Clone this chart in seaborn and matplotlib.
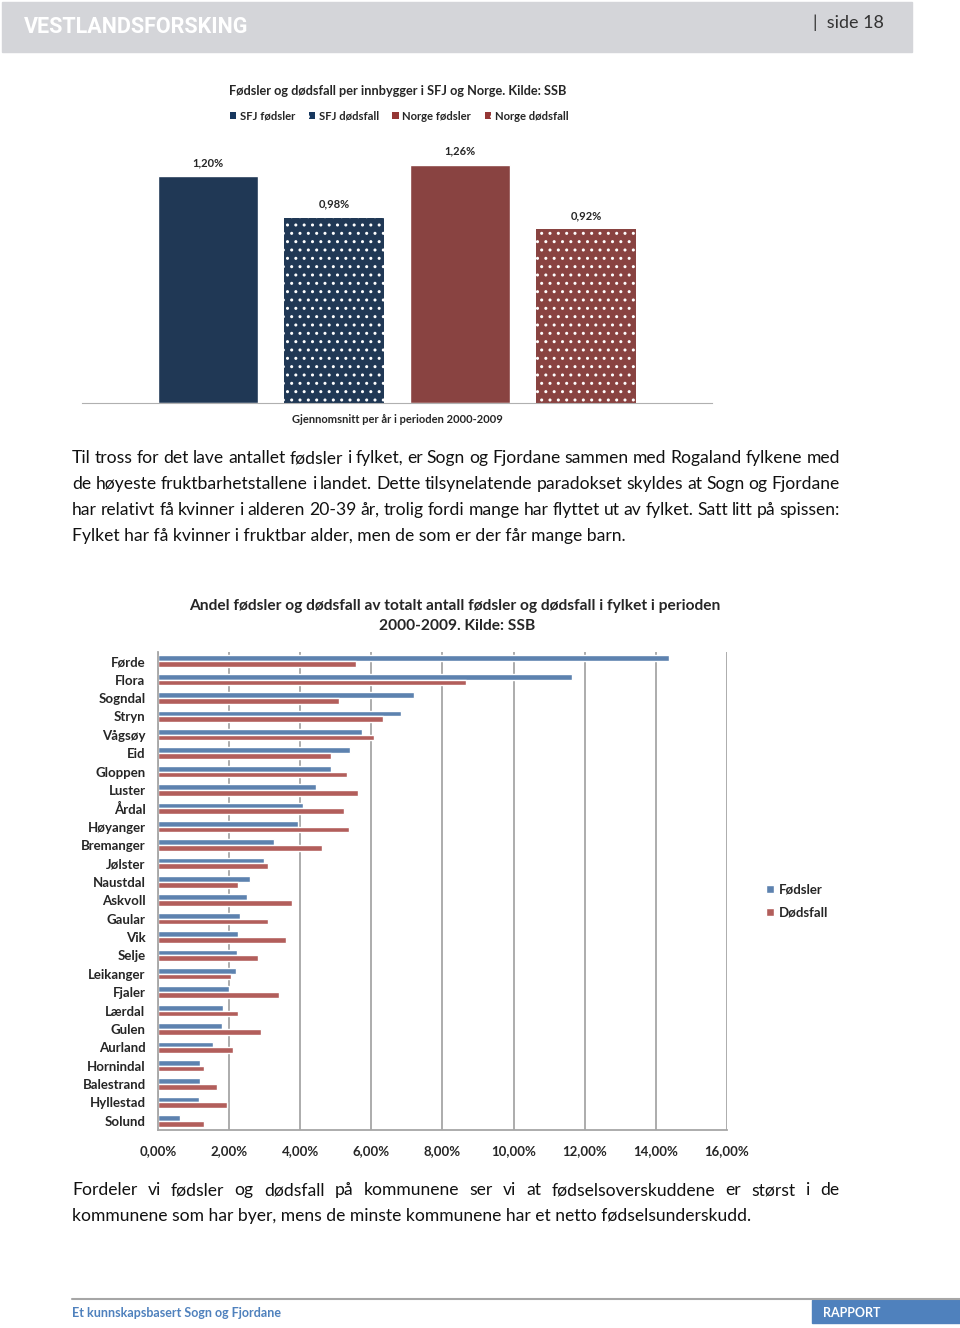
import matplotlib
matplotlib.use('Agg')
import matplotlib.pyplot as plt
import matplotlib.patches as mpatches
import pandas as pd
import seaborn as sns

# top chart data
top_series = ['SFJ fødsler', 'SFJ dødsfall', 'Norge fødsler', 'Norge dødsfall']
top_values = [1.20, 0.98, 1.26, 0.92]
top_category = 'Gjennomsnitt per år i perioden 2000-2009'

# bottom chart data (percent)
kommuner = ['Førde', 'Flora', 'Sogndal', 'Stryn', 'Vågsøy', 'Eid', 'Gloppen', 'Luster',
            'Årdal', 'Høyanger', 'Bremanger', 'Jølster', 'Naustdal', 'Askvoll', 'Gaular',
            'Vik', 'Selje', 'Leikanger', 'Fjaler', 'Lærdal', 'Gulen', 'Aurland',
            'Hornindal', 'Balestrand', 'Hyllestad', 'Solund']
fodsler = [14.38, 11.65, 7.21, 6.83, 5.75, 5.41, 4.87, 4.44, 4.09, 3.95, 3.27, 2.98, 2.58,
           2.49, 2.30, 2.25, 2.22, 2.18, 2.01, 1.83, 1.79, 1.56, 1.19, 1.18, 1.15, 0.61]
dodsfall = [5.57, 8.66, 5.08, 6.33, 6.07, 4.86, 5.32, 5.61, 5.22, 5.38, 4.61, 3.09, 2.26,
            3.77, 3.08, 3.61, 2.82, 2.05, 3.39, 2.25, 2.89, 2.11, 1.29, 1.65, 1.94, 1.29]
x_ticks = [0, 2, 4, 6, 8, 10, 12, 14, 16]

para1 = ['Til tross for det lave antallet fødsler i fylket, er Sogn og Fjordane sammen med Rogaland fylkene med',
         'de høyeste fruktbarhetstallene i landet. Dette tilsynelatende paradokset skyldes at Sogn og Fjordane',
         'har relativt få kvinner i alderen 20-39 år, trolig fordi mange har flyttet ut av fylket. Satt litt på spissen:',
         'Fylket har få kvinner i fruktbar alder, men de som er der får mange barn.']
para2 = ['Fordeler vi fødsler og dødsfall på kommunene ser vi at fødselsoverskuddene er størst i de',
         'kommunene som har byer, mens de minste kommunene har et netto fødselsunderskudd.']

sns.set_style('white')
plt.rcParams['font.family'] = ['Lato', 'DejaVu Sans']

W, H = 960, 1328
fig = plt.figure(figsize=(W / 100, H / 100), dpi=100)


def box(x0, y0, x1, y1):
    return [x0 / W, 1 - y1 / H, (x1 - x0) / W, (y1 - y0) / H]


def fx(x):
    return x / W


def fy(y):
    return 1 - y / H


# header and footer
fig.patches.append(mpatches.Rectangle((fx(2), fy(52)), 910 / W, 50 / H, transform=fig.transFigure,
                                      color='#d4d5d9', zorder=0))
fig.text(fx(24), fy(27), 'VESTLANDSFORSKING', color='white', fontsize=15.5, fontweight='bold',
         family=['Roboto', 'DejaVu Sans'], va='center')
fig.text(fx(813), fy(23), '|  side 18', color='#333333', fontsize=13, va='center')
fig.add_artist(plt.Line2D([fx(72), fx(960)], [fy(1299), fy(1299)], color='#a6a6a6', lw=1.5))
fig.patches.append(mpatches.Rectangle((fx(812), fy(1323)), 148 / W, 23 / H, transform=fig.transFigure,
                                      color='#4f81bd', zorder=0))
fig.text(fx(823), fy(1313), 'RAPPORT', color='white', fontsize=9, fontweight='bold', va='center')
fig.text(fx(72), fy(1313), 'Et kunnskapsbasert Sogn og Fjordane', color='#4f81bd', fontsize=9,
         fontweight='bold', va='center')

# body text, justified lines
renderer = fig.canvas.get_renderer()


def put_line(line, y, justify, x0=72, x1=840, size=12.6):
    if not justify:
        fig.text(fx(x0), fy(y), line, fontsize=size, color='#111111', va='center')
        return
    words = line.split(' ')
    widths = []
    for w in words:
        t = fig.text(0, 0, w, fontsize=size)
        widths.append(t.get_window_extent(renderer).width)
        t.remove()
    gap = (x1 - x0 - sum(widths)) / (len(words) - 1)
    x = x0
    for w, wd in zip(words, widths):
        fig.text(fx(x), fy(y), w, fontsize=size, color='#111111', va='center')
        x += wd + gap


for i, line in enumerate(para1):
    put_line(line, 458 + 26 * i, i < 3)
for i, line in enumerate(para2):
    put_line(line, 1190 + 26 * i, i < 1, x1=839)

# top chart
top_df = pd.DataFrame({'kategori': top_category, 'serie': top_series, 'verdi': top_values})
top_colors = ['#17375e', '#17375e', '#953735', '#953735']
ax1 = fig.add_axes(box(82, 138.5, 712, 403))
sns.barplot(data=top_df, x='kategori', y='verdi', hue='serie', palette=top_colors,
            width=0.8, gap=0.2, ax=ax1, legend=False)
for i, cont in enumerate(ax1.containers):
    for bar in cont:
        if i in (1, 3):
            bar.set_hatch('..')
            bar.set_edgecolor('white')
            bar.set_linewidth(0)
    ax1.bar_label(cont, labels=[f'{v:.2f}%'.replace('.', ',') for v in cont.datavalues],
                  padding=6, fontsize=8, fontweight='bold')
ax1.set_ylim(0, 1.4)
ax1.set_xlim(-0.5, 0.5)
ax1.set_yticks([])
ax1.set_xlabel('')
ax1.set_ylabel('')
for s in ['top', 'right', 'left']:
    ax1.spines[s].set_visible(False)
ax1.spines['bottom'].set_color('#b0b0b0')
ax1.tick_params(axis='x', length=0, pad=8, labelsize=8)
for t in ax1.get_xticklabels():
    t.set_fontweight('bold')
fig.text(fx(398), fy(91), 'Fødsler og dødsfall per innbygger i SFJ og Norge. Kilde: SSB',
         ha='center', va='center', fontsize=9.2, fontweight='bold')
handles = []
for i, name in enumerate(top_series):
    p = mpatches.Patch(facecolor=top_colors[i], edgecolor='white', linewidth=0,
                       hatch='..' if i in (1, 3) else None, label=name)
    handles.append(p)
ax1.legend(handles=handles, loc='center', bbox_to_anchor=(fx(399), fy(116)),
           bbox_transform=fig.transFigure, ncol=4, frameon=False,
           handlelength=0.6, handleheight=0.6, handletextpad=0.3, columnspacing=1.2,
           prop={'weight': 'bold', 'size': 8.1})

# bottom chart
long_df = pd.DataFrame({
    'kommune': kommuner * 2,
    'andel': fodsler + dodsfall,
    'type': ['Fødsler'] * len(kommuner) + ['Dødsfall'] * len(kommuner),
})
ax2 = fig.add_axes(box(158, 652, 727, 1130))
sns.barplot(data=long_df, y='kommune', x='andel', hue='type', orient='h',
            palette=['#4f81bd', '#c0504d'], width=0.62, ax=ax2)
ax2.set_xlim(0, 16)
ax2.set_ylim(len(kommuner) - 0.5, -0.5)
ax2.set_xticks(x_ticks)
ax2.set_xticklabels([f'{v:.2f}%'.replace('.', ',') for v in x_ticks])
ax2.set_xlabel('')
ax2.set_ylabel('')
ax2.grid(axis='x', color='#a6a6a6', lw=1.3)
ax2.grid(axis='y', visible=False)
ax2.set_axisbelow(True)
for s in ['top', 'right']:
    ax2.spines[s].set_visible(False)
for s in ['left', 'bottom']:
    ax2.spines[s].set_color('#a6a6a6')
    ax2.spines[s].set_linewidth(1.3)
ax2.tick_params(axis='y', length=0, pad=9, labelsize=9.5)
ax2.tick_params(axis='x', length=0, pad=11, labelsize=9.5)
for t in ax2.get_xticklabels() + ax2.get_yticklabels():
    t.set_fontweight('bold')
ax2.legend(loc='upper left', bbox_to_anchor=(fx(754), fy(872)), bbox_transform=fig.transFigure,
           frameon=False, handlelength=0.6, handleheight=0.6, handletextpad=0.4,
           labelspacing=0.8, prop={'weight': 'bold', 'size': 9.5})
fig.text(fx(455), fy(606), 'Andel fødsler og dødsfall av totalt antall fødsler og dødsfall i fylket i perioden',
         ha='center', va='center', fontsize=11.2, fontweight='bold')
fig.text(fx(457), fy(626), '2000-2009. Kilde: SSB', ha='center', va='center', fontsize=11.2,
         fontweight='bold')

fig.savefig('out.png', dpi=100)
